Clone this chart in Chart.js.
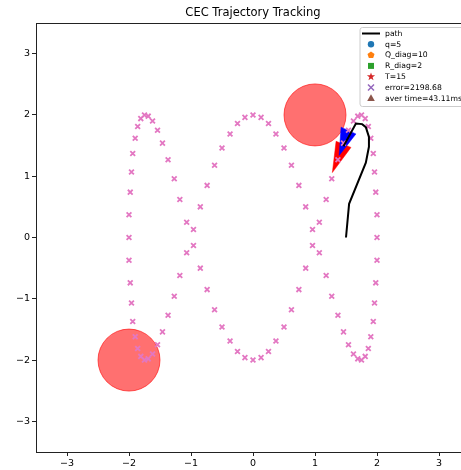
<!DOCTYPE html>
<html><head><meta charset="utf-8">
<script src="https://cdn.jsdelivr.net/npm/chart.js@4.4.1/dist/chart.umd.min.js"></script>
<style>html,body{margin:0;padding:0;overflow:hidden;background:#fff;width:461px;height:470px}canvas{display:block}</style>
</head><body>
<canvas id="c" width="476" height="470"></canvas>
<script>
// reference trajectory markers
const refX = [0, 0.13, 0.25, 0.37, 0.50, 0.62, 0.74, 0.85, 0.96, 1.07,
  1.18, 1.27, 1.37, 1.46, 1.54, 1.62, 1.69, 1.75, 1.81, 1.86,
  1.90, 1.94, 1.96, 1.98, 2.00, 2.00, 2.00, 1.98, 1.96, 1.94,
  1.90, 1.86, 1.81, 1.75, 1.69, 1.62, 1.54, 1.46, 1.37, 1.27,
  1.18, 1.07, 0.96, 0.85, 0.74, 0.62, 0.50, 0.37, 0.25, 0.13,
  0, -0.13, -0.25, -0.37, -0.50, -0.62, -0.74, -0.85, -0.96, -1.07,
  -1.18, -1.27, -1.37, -1.46, -1.54, -1.62, -1.69, -1.75, -1.81, -1.86,
  -1.90, -1.94, -1.96, -1.98, -2.00, -2.00, -2.00, -1.98, -1.96, -1.94,
  -1.90, -1.86, -1.81, -1.75, -1.69, -1.62, -1.54, -1.46, -1.37, -1.27,
  -1.18, -1.07, -0.96, -0.85, -0.74, -0.62, -0.50, -0.37, -0.25, -0.13];
const refY = [2.00, 1.96, 1.86, 1.69, 1.46, 1.18, 0.85, 0.50, 0.13, -0.25,
  -0.62, -0.96, -1.27, -1.54, -1.75, -1.90, -1.98, -2.00, -1.94, -1.81,
  -1.62, -1.37, -1.07, -0.74, -0.37, 0, 0.37, 0.74, 1.07, 1.37,
  1.62, 1.81, 1.94, 2.00, 1.98, 1.90, 1.75, 1.54, 1.27, 0.96,
  0.62, 0.25, -0.13, -0.50, -0.85, -1.18, -1.46, -1.69, -1.86, -1.96,
  -2.00, -1.96, -1.86, -1.69, -1.46, -1.18, -0.85, -0.50, -0.13, 0.25,
  0.62, 0.96, 1.27, 1.54, 1.75, 1.90, 1.98, 2.00, 1.94, 1.81,
  1.62, 1.37, 1.07, 0.74, 0.37, 0, -0.37, -0.74, -1.07, -1.37,
  -1.62, -1.81, -1.94, -2.00, -1.98, -1.90, -1.75, -1.54, -1.27, -0.96,
  -0.62, -0.25, 0.13, 0.50, 0.85, 1.18, 1.46, 1.69, 1.86, 1.96];
// travelled path
const pathX = [1.50, 1.55, 1.82, 1.87, 1.87, 1.82, 1.76, 1.66, 1.46];
const pathY = [0.00, 0.55, 1.22, 1.48, 1.64, 1.80, 1.85, 1.86, 1.49];
// obstacles
const obstacleX = [1, -2];
const obstacleY = [2, -2];
const obstacleR = [0.5, 0.5];
// heading arrows (polygons)
const blueArrowX = [1.42, 1.66, 1.39, 1.42];
const blueArrowY = [1.80, 1.69, 1.34, 1.80];
const redArrowX = [1.34, 1.58, 1.28, 1.34];
const redArrowY = [1.57, 1.47, 1.06, 1.57];
// ticks
const xTicks = [-3, -2, -1, 0, 1, 2, 3];
const yTicks = [-3, -2, -1, 0, 1, 2, 3];
// legend entries
const legendLabels = ['q=5', 'Q_diag=10', 'R_diag=2', 'T=15', 'error=2198.68', 'aver time=43.11ms'];
const legendMarkers = ['o', 'p', 's', '*', 'x', '^'];
const legendColors = ['#1f77b4', '#ff7f0e', '#2ca02c', '#d62728', '#9467bd', '#8c564b'];

const zip = (xs, ys) => xs.map((x, i) => ({x, y: ys[i]}));
const FONT = "'DejaVu Sans', 'Liberation Sans', sans-serif";

const datasets = [
  {label: 'path', mk: 'line', data: zip(pathX, pathY), showLine: true, borderColor: '#000', borderWidth: 2,
   pointRadius: 0, fill: false, tension: 0, order: 1},
  {data: zip(refX, refY), showLine: false, pointStyle: 'crossRot', pointRadius: 3.4, borderWidth: 1.8,
   borderColor: '#e377c2', backgroundColor: '#e377c2', order: 2},
  {data: zip(blueArrowX, blueArrowY), showLine: true, fill: 'shape', borderColor: '#0000ff', borderWidth: 0.5,
   backgroundColor: '#0000ff', pointRadius: 0, tension: 0, order: 3},
  {data: zip(redArrowX, redArrowY), showLine: true, fill: 'shape', borderColor: '#ff0000', borderWidth: 0.5,
   backgroundColor: '#ff0000', pointRadius: 0, tension: 0, order: 4},
  {data: zip(obstacleX, obstacleY), showLine: false, pointStyle: 'circle',
   pointRadius: (c) => { const s = c.chart.scales.x; return Math.abs(s.getPixelForValue(obstacleR[c.dataIndex]) - s.getPixelForValue(0)); },
   backgroundColor: 'rgba(255,0,0,0.56)', borderColor: 'rgba(255,0,0,0.6)', borderWidth: 1, order: 6}
];
legendLabels.forEach((l, i) => datasets.push({label: l, mk: legendMarkers[i], data: [], backgroundColor: legendColors[i], borderColor: legendColors[i], order: 10 + i}));

function drawMarker(ctx, mk, cx, cy, color) {
  ctx.save();
  ctx.fillStyle = color; ctx.strokeStyle = color;
  ctx.beginPath();
  if (mk === 'line') {
    ctx.lineWidth = 2; ctx.moveTo(cx - 9, cy); ctx.lineTo(cx + 9, cy); ctx.stroke();
  } else if (mk === 'o') {
    ctx.arc(cx, cy, 3.2, 0, Math.PI * 2); ctx.fill();
  } else if (mk === 'p') {
    for (let i = 0; i < 5; i++) { const a = -Math.PI / 2 + i * 2 * Math.PI / 5; const px = cx + 3.7 * Math.cos(a), py = cy + 3.7 * Math.sin(a); i ? ctx.lineTo(px, py) : ctx.moveTo(px, py); }
    ctx.closePath(); ctx.fill();
  } else if (mk === 's') {
    ctx.rect(cx - 3, cy - 3, 6, 6); ctx.fill();
  } else if (mk === '*') {
    for (let i = 0; i < 10; i++) { const a = -Math.PI / 2 + i * Math.PI / 5; const r = i % 2 ? 1.7 : 4.3; const px = cx + r * Math.cos(a), py = cy + r * Math.sin(a); i ? ctx.lineTo(px, py) : ctx.moveTo(px, py); }
    ctx.closePath(); ctx.fill();
  } else if (mk === 'x') {
    ctx.lineWidth = 1.5; ctx.moveTo(cx - 3, cy - 3); ctx.lineTo(cx + 3, cy + 3); ctx.moveTo(cx - 3, cy + 3); ctx.lineTo(cx + 3, cy - 3); ctx.stroke();
  } else if (mk === '^') {
    ctx.moveTo(cx, cy - 4); ctx.lineTo(cx + 3.8, cy + 2.8); ctx.lineTo(cx - 3.8, cy + 2.8); ctx.closePath(); ctx.fill();
  }
  ctx.restore();
}

const framePlugin = {
  id: 'frame',
  afterDatasetsDraw(chart) {
    const {ctx, chartArea: a} = chart;
    ctx.save(); ctx.strokeStyle = '#222'; ctx.lineWidth = 1;
    ctx.beginPath(); ctx.moveTo(a.left, a.top + 0.5); ctx.lineTo(a.right + 0.5, a.top + 0.5); ctx.lineTo(a.right + 0.5, a.bottom); ctx.stroke();
    ctx.restore();
  }
};

const legendPlugin = {
  id: 'mplLegend',
  afterDraw(chart) {
    const {ctx, chartArea: a} = chart;
    const items = chart.data.datasets.filter(d => d.label);
    const right = a.right - 4.5, top = a.top + 4.5;
    const left = right - 105.5, h = 79;
    ctx.save();
    ctx.beginPath();
    if (ctx.roundRect) ctx.roundRect(left, top, right - left, h, 2.5); else ctx.rect(left, top, right - left, h);
    ctx.fillStyle = 'rgba(255,255,255,0.8)'; ctx.fill();
    ctx.strokeStyle = '#cccccc'; ctx.lineWidth = 1; ctx.stroke();
    ctx.font = '7.7px ' + FONT; ctx.fillStyle = '#000'; ctx.textBaseline = 'middle'; ctx.textAlign = 'left';
    items.forEach((d, i) => {
      const cy = top + 6 + i * 10.8;
      drawMarker(ctx, d.mk, left + 11, cy, d.borderColor);
      ctx.fillStyle = '#000';
      ctx.fillText(d.label, left + 25, cy + 0.3);
    });
    ctx.restore();
  }
};

const fmt = v => (v < 0 ? '\u2212' + Math.abs(v) : '' + v);
const axisCommon = {
  type: 'linear', min: -3.5, max: 3.5,
  grid: {display: true, drawOnChartArea: false, drawTicks: true, tickLength: 4, color: '#222', lineWidth: 1},
  border: {display: true, color: '#222', width: 1},
  ticks: {color: '#000', font: {family: FONT, size: 9.5}, padding: 2, callback: fmt, autoSkip: false, maxRotation: 0}
};

new Chart(document.getElementById('c'), {
  type: 'scatter',
  data: {datasets},
  options: {
    responsive: false, animation: false, devicePixelRatio: 1, events: [],
    layout: {padding: {left: 0, right: 6, top: 0, bottom: 0}},
    plugins: {
      legend: {display: false}, tooltip: {enabled: false},
      title: {display: true, text: 'CEC Trajectory Tracking', fullSize: false, color: '#000',
        font: {family: FONT, size: 11.5, weight: 'normal'}, padding: {top: 6, bottom: 3.2}}
    },
    scales: {
      x: Object.assign({}, axisCommon, {position: 'bottom',
        afterBuildTicks: s => { s.ticks = xTicks.map(v => ({value: v})); },
        afterFit: s => { s.height = 18; }}),
      y: Object.assign({}, axisCommon, {position: 'left',
        afterBuildTicks: s => { s.ticks = yTicks.map(v => ({value: v})); },
        afterFit: s => { s.width = 36; }})
    }
  },
  plugins: [framePlugin, legendPlugin]
});
</script>
</body></html>
